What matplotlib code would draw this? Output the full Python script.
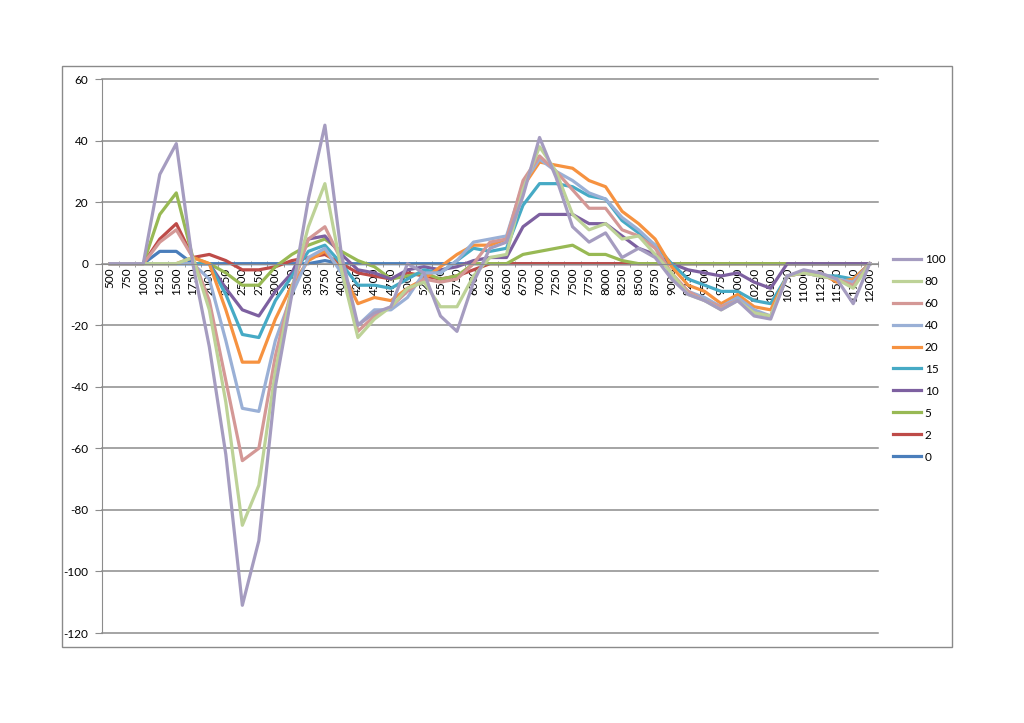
import matplotlib
matplotlib.use("Agg")
import matplotlib.pyplot as plt
from matplotlib.patches import Rectangle

plt.rcParams["axes.unicode_minus"] = False
plt.rcParams["font.family"] = ["Lato", "DejaVu Sans"]

categories = [str(v) for v in range(500, 12001, 250)]

s0 = [0, 0, 0, 4, 4, 0, 0, 0, 0, 0, 0, 0, 0, 1, 0, 0, 0, 0, 0, 0, 0, 0, 0, 0,
      0, 0, 0, 0, 0, 0, 0, 0, 0, 0, 0, 0, 0, 0, 0, 0, 0, 0, 0, 0, 0, 0, 0]
s2 = [0, 0, 0, 8, 13, 2, 3, 1, -2, -2, -1, 1, 2, 3, 0, -3, -4, -5, -3, -4, -5, -4, -2, 0,
      0, 0, 0, 0, 0, 0, 0, 0, 0, 0, 0, 0, 0, 0, 0, 0, 0, 0, 0, 0, 0, 0, 0]
s5 = [0, 0, 0, 16, 23, 2, 0, -3, -7, -7, -1, 3, 6, 8, 4, 1, -1, -5, -4, -3, -5, -4, 0, 0,
      0, 3, 4, 5, 6, 3, 3, 1, 0, 0, 0, 0, 0, 0, 0, 0, 0, 0, 0, 0, 0, 0, 0]
s10 = [0, 0, 0, 0, 0, 0, 0, -8, -15, -17, -9, -3, 8, 9, 3, -2, -3, -5, -2, -1, -2, -1, 1, 2,
       2, 12, 16, 16, 16, 13, 13, 9, 5, 3, 0, -2, -3, -4, -3, -6, -8, 0, 0, 0, 0, 0, 0]
s15 = [0, 0, 0, 0, 0, 0, 0, -10, -23, -24, -12, -4, 4, 6, 0, -7, -7, -8, -5, -2, -3, 1, 5, 4,
       5, 19, 26, 26, 25, 22, 21, 14, 10, 6, 0, -5, -7, -9, -9, -12, -13, -4, -3, -4, -4, -5, 0]
s20 = [0, 0, 0, 0, 0, 2, 0, -15, -32, -32, -18, -7, 1, 4, -2, -13, -11, -12, -8, -5, -1, 3, 6, 6,
       8, 25, 33, 32, 31, 27, 25, 17, 13, 8, -1, -7, -9, -13, -10, -14, -15, -4, -3, -3, -6, -5, 0]
s40 = [0, 0, 0, 0, 0, 0, -5, -25, -47, -48, -25, -10, 2, 5, -3, -20, -15, -15, -11, -3, -3, 1, 7, 8,
       9, 26, 34, 30, 27, 23, 21, 15, 11, 6, -4, -9, -11, -14, -11, -15, -17, -4, -3, -4, -5, -6, 0]
s60 = [0, 0, 0, 7, 11, 2, -12, -38, -64, -60, -30, -8, 8, 12, 1, -22, -17, -14, -9, -5, -6, -5, 0, 7,
       8, 27, 35, 30, 24, 18, 18, 11, 9, 5, -3, -9, -12, -14, -12, -16, -17, -4, -3, -4, -5, -7, 0]
s80 = [0, 0, 0, 0, 0, 2, -15, -45, -85, -72, -35, -8, 12, 26, -2, -24, -18, -14, -8, -6, -14, -14, -4, 2,
       3, 24, 38, 30, 16, 11, 13, 8, 9, 3, -3, -10, -12, -15, -12, -16, -17, -4, -3, -4, -5, -8, 0]
s100 = [0, 0, 0, 29, 39, 0, -27, -62, -111, -90, -40, -10, 21, 45, 3, -20, -16, -14, 0, -3, -17, -22, -6, 5,
        7, 22, 41, 28, 12, 7, 10, 2, 5, 2, -5, -10, -12, -15, -12, -17, -18, -4, -2, -3, -5, -13, 0]

series_names = ["0", "2", "5", "10", "15", "20", "40", "60", "80", "100"]
series_values = [s0, s2, s5, s10, s15, s20, s40, s60, s80, s100]
colors = ["#4A7EBB", "#BE4B48", "#98B954", "#7D60A0", "#46AAC5",
          "#F69240", "#9AB0D6", "#D49896", "#BDD297", "#A59CC0"]

fig = plt.figure(figsize=(10.24, 7.23), dpi=100)
fig.patches.append(Rectangle((62 / 1024, 1 - 647 / 723), (952 - 62) / 1024, (647 - 66) / 723,
                             transform=fig.transFigure, fill=False, edgecolor="#8A8A8A",
                             linewidth=1.0))
ax = fig.add_axes([102 / 1024, 1 - 633 / 723, (878 - 102) / 1024, (633 - 79) / 723])

x = list(range(len(categories)))
lines = []
for name, vals, c in zip(series_names, series_values, colors):
    ln, = ax.plot(x, vals, color=c, linewidth=2.3, label=name, solid_joinstyle="round")
    lines.append(ln)

ax.set_xlim(-0.5, len(categories) - 0.5)
ax.set_ylim(-120, 60)
ax.set_yticks(range(-120, 61, 20))
for yv in range(-120, 61, 20):
    ax.axhline(yv, color="#8C8C8C", linewidth=1.1, zorder=0.5, clip_on=False)

for side in ["top", "right"]:
    ax.spines[side].set_visible(False)
ax.spines["left"].set_color("#8C8C8C")
ax.spines["bottom"].set_position(("data", 0))
ax.spines["bottom"].set_color("#8C8C8C")

ax.set_xticks(x)
ax.set_xticklabels(categories, rotation=90, fontsize=8.5, va="top", ha="center")
ax.set_xticks([i + 0.5 for i in range(-1, len(categories))], minor=True)
ax.tick_params(axis="x", which="major", length=0, pad=3)
ax.tick_params(axis="x", which="minor", length=5, direction="inout", color="#8C8C8C")
ax.tick_params(axis="y", length=5, color="#8C8C8C", labelsize=8.5, pad=5)

ax.legend(lines[::-1], series_names[::-1], loc="upper left",
          bbox_to_anchor=(888 / 1024, 1 - 249 / 723), bbox_transform=fig.transFigure,
          frameon=False, fontsize=8.5, handlelength=2.4, handletextpad=0.3,
          labelspacing=0.93, borderaxespad=0)

fig.savefig("out.png", dpi=100)
